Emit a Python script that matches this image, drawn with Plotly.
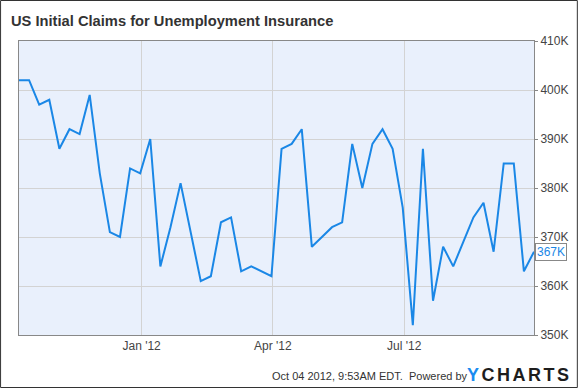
import plotly.graph_objects as go

week_ending = [
    "2011-10-08", "2011-10-15", "2011-10-22", "2011-10-29",
    "2011-11-05", "2011-11-12", "2011-11-19", "2011-11-26",
    "2011-12-03", "2011-12-10", "2011-12-17", "2011-12-24", "2011-12-31",
    "2012-01-07", "2012-01-14", "2012-01-21", "2012-01-28",
    "2012-02-04", "2012-02-11", "2012-02-18", "2012-02-25",
    "2012-03-03", "2012-03-10", "2012-03-17", "2012-03-24", "2012-03-31",
    "2012-04-07", "2012-04-14", "2012-04-21", "2012-04-28",
    "2012-05-05", "2012-05-12", "2012-05-19", "2012-05-26",
    "2012-06-02", "2012-06-09", "2012-06-16", "2012-06-23", "2012-06-30",
    "2012-07-07", "2012-07-14", "2012-07-21", "2012-07-28",
    "2012-08-04", "2012-08-11", "2012-08-18", "2012-08-25",
    "2012-09-01", "2012-09-08", "2012-09-15", "2012-09-22", "2012-09-29",
]
claims_k = [
    402, 402, 397, 398, 388, 392, 391, 399, 383, 371,
    370, 384, 383, 390, 364, 372, 381, 371, 361, 362,
    373, 374, 363, 364, 363, 362, 388, 389, 392, 368,
    370, 372, 373, 389, 380, 389, 392, 388, 376, 352,
    388, 357, 368, 364, 369, 374, 377, 367, 385, 385,
    363, 367,
]
y_ticks = [350, 360, 370, 380, 390, 400, 410]
y_tick_text = ["350K", "360K", "370K", "380K", "390K", "400K", "410K"]
x_ticks = ["2012-01-01", "2012-04-01", "2012-07-01"]
x_tick_text = ["Jan '12", "Apr '12", "Jul '12"]

title_text = "US Initial Claims for Unemployment Insurance"
footer_text = "Oct 04 2012, 9:53AM EDT.  Powered by"

W_FIG, H_FIG = 580, 388
L, R, T, B = 19, 44, 41, 53
PW = W_FIG - L - R
PH = H_FIG - T - B


def px(x):
    return (x - L) / PW


def py(y):
    return 1 - (y - T) / PH


FONT = "Liberation Sans, Arial, sans-serif"
LINE = "#1a87e6"

fig = go.Figure()
fig.add_trace(go.Scatter(
    x=week_ending, y=claims_k, mode="lines",
    line=dict(color=LINE, width=2), hoverinfo="skip", showlegend=False,
))

fig.update_layout(
    width=W_FIG, height=H_FIG,
    margin=dict(l=L, r=R, t=T, b=B, pad=0),
    paper_bgcolor="white", plot_bgcolor="#e9f0fc",
    font=dict(family=FONT, size=12, color="#444"),
    showlegend=False,
    xaxis=dict(
        range=[week_ending[0], week_ending[-1]],
        tickvals=x_ticks, ticktext=x_tick_text,
        showgrid=True, gridcolor="#d3d3d3", gridwidth=1,
        showline=True, linecolor="#888", linewidth=1, mirror=True,
        ticks="", zeroline=False,
        tickfont=dict(family=FONT, size=12, color="#444"),
    ),
    yaxis=dict(
        range=[350, 410], side="right",
        tickvals=y_ticks, ticktext=y_tick_text,
        showgrid=True, gridcolor="#d3d3d3", gridwidth=1,
        showline=True, linecolor="#888", linewidth=1, mirror=True,
        ticks="outside", ticklen=3, tickcolor="#888",
        zeroline=False,
        tickfont=dict(family=FONT, size=12, color="#444"),
    ),
)

annotations = [
    dict(text="<b>" + title_text + "</b>", xref="paper", yref="paper",
         x=px(9), y=py(20.5), xanchor="left", yanchor="middle", showarrow=False,
         font=dict(family=FONT, size=14.7, color="#333")),
    dict(text=footer_text, xref="paper", yref="paper",
         x=px(271), y=py(376), xanchor="left", yanchor="middle", showarrow=False,
         font=dict(family=FONT, size=11, color="#333")),
    dict(text="<b><span style='letter-spacing:2.5px'><span style='color:#1a8cf0'>Y</span>CHARTS</span></b>",
         xref="paper", yref="paper",
         x=px(467), y=py(375), xanchor="left", yanchor="middle", showarrow=False,
         font=dict(family=FONT, size=18, color="#1d1d1d")),
    dict(text=str(claims_k[-1]) + "K", xref="x", yref="y",
         x=week_ending[-1], y=claims_k[-1], xanchor="left", yanchor="middle",
         xshift=1, showarrow=False, bgcolor="white", bordercolor="#888",
         borderwidth=1, borderpad=1,
         font=dict(family=FONT, size=12, color=LINE)),
]
fig.update_layout(annotations=annotations)

fig.add_shape(type="rect", xref="paper", yref="paper",
              x0=px(0.5), x1=px(579.5), y0=py(0.5), y1=py(387.5),
              line=dict(color="#333", width=1), fillcolor="rgba(0,0,0,0)",
              layer="above")

fig.write_html(
    "out.html",
    config={"displayModeBar": False},
    post_script="document.body.style.margin='0';document.body.style.padding='0';",
)
